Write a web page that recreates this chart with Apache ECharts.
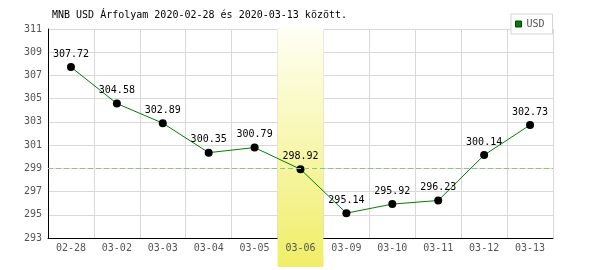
<!DOCTYPE html>
<html>
<head>
<meta charset="utf-8">
<script src="https://cdn.jsdelivr.net/npm/echarts@6/dist/echarts.min.js"></script>
<style>html,body{margin:0;padding:0;background:#fff}#c{width:600px;height:270px}</style>
</head>
<body>
<div id="c"></div>
<script>
const titleText = 'MNB USD Árfolyam 2020-02-28 és 2020-03-13 között.';
const seriesName = 'USD';
const categories = ['02-28','03-02','03-03','03-04','03-05','03-06','03-09','03-10','03-11','03-12','03-13'];
const values = [307.72,304.58,302.89,300.35,300.79,298.92,295.14,295.92,296.23,300.14,302.73];
const highlightCategory = '03-06';
const referenceValue = 299;
const yMin = 293, yMax = 311, yStep = 2;

const mono = 'DejaVu Sans Mono';
const chart = echarts.init(document.getElementById('c'), null, {renderer:'canvas'});
chart.setOption({
  animation: false,
  backgroundColor: '#fff',
  title: {
    text: titleText, left: 52, top: 10, padding: 0,
    textStyle: {fontFamily: mono, fontSize: 10, fontWeight: 'normal', color: '#000'}
  },
  legend: {
    data: [seriesName], left: 511, top: 14, padding: [5, 8, 5, 4],
    backgroundColor: '#fff', borderColor: '#d4d4d4', borderWidth: 1, borderRadius: 0,
    itemWidth: 6, itemHeight: 6, icon: 'rect',
    itemStyle: {color: '#008000', borderColor: '#004400', borderWidth: 1},
    textStyle: {fontFamily: mono, fontSize: 10, color: '#555'}
  },
  grid: {left: 48, right: 47, top: 29, bottom: 32, containLabel: false},
  xAxis: [{
    type: 'category', data: categories, boundaryGap: true, z: 0,
    axisLine: {show: true, lineStyle: {color: '#000', width: 1}},
    axisTick: {show: false},
    axisLabel: {show: false},
    splitLine: {show: true, lineStyle: {color: '#d9d9d9', width: 1}}
  }, {
    type: 'category', data: categories, boundaryGap: true, position: 'bottom', z: 5,
    axisLine: {show: false}, axisTick: {show: false}, splitLine: {show: false},
    axisLabel: {show: true, margin: 5, fontFamily: mono, fontSize: 10, color: '#555', interval: 0}
  }],
  yAxis: {
    type: 'value', min: yMin, max: yMax, interval: yStep, z: 0,
    axisLine: {show: true, lineStyle: {color: '#000', width: 1}},
    axisTick: {show: false},
    axisLabel: {margin: 6, fontFamily: mono, fontSize: 10, color: '#555'},
    splitLine: {show: true, lineStyle: {color: '#d9d9d9', width: 1}}
  },
  series: [{
    type: 'line', name: 'ref', data: [], z: 0, silent: true,
    markLine: {
      silent: true, symbol: ['none','none'], label: {show: false},
      lineStyle: {color: '#88c488', type: [5, 3], width: 1},
      data: [{yAxis: referenceValue}]
    }
  }, {
    type: 'line', name: seriesName, data: values, z: 3,
    color: '#008000',
    lineStyle: {color: '#008000', width: 1},
    symbol: 'circle', symbolSize: 8,
    itemStyle: {color: '#000'},
    label: {show: true, position: 'top', distance: 4, fontFamily: mono, fontSize: 10, color: '#000',
      formatter: p => p.value.toFixed(2)}
  }]
});

const idx = categories.indexOf(highlightCategory);
const c0 = chart.convertToPixel({xAxisIndex: 0}, idx);
const c1 = chart.convertToPixel({xAxisIndex: 0}, idx + 1);
const bw = c1 - c0;
const yTop = chart.convertToPixel({yAxisIndex: 0}, yMax);
const yBot = chart.convertToPixel({yAxisIndex: 0}, yMin) + 29;
chart.setOption({
  graphic: [{
    type: 'rect', z: 1, silent: true,
    shape: {x: c0 - bw / 2, y: yTop, width: bw, height: yBot - yTop},
    style: {fill: new echarts.graphic.LinearGradient(0, 0, 0, 1, [
      {offset: 0, color: '#fffff4'}, {offset: 1, color: '#f0ee66'}
    ])}
  }]
});
</script>
</body>
</html>
